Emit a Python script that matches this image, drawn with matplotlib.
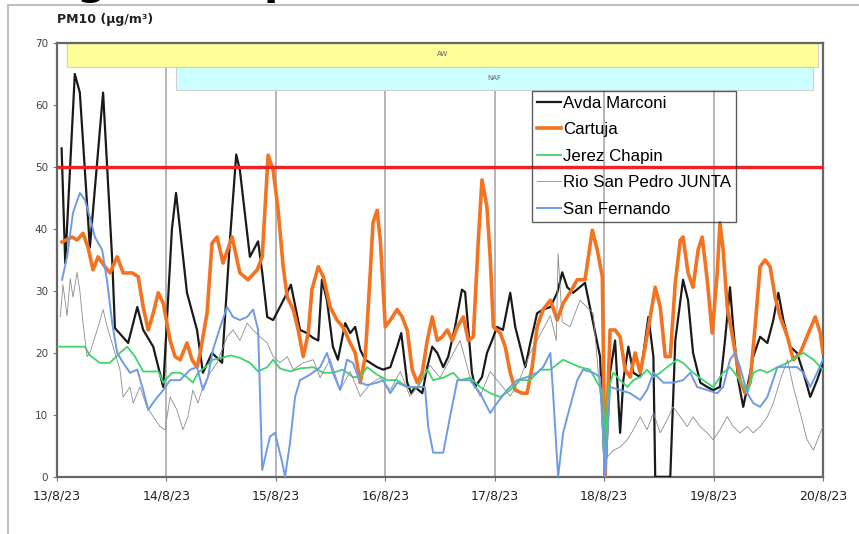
import numpy as np
import matplotlib
matplotlib.use("Agg")
import matplotlib.pyplot as plt
from matplotlib.lines import Line2D

# horas desde el 13/8/23 00:00
marconi_h = [1.0, 1.8, 3.9, 5.0, 7.2, 10.1, 12.1, 12.7, 15.6, 17.6, 18.9, 21.1, 23.3, 25.2, 26.1,
             28.5, 30.7, 32.0, 34.0, 36.2, 38.0, 39.3, 40.1, 42.3, 44.1, 45.0, 46.1, 47.4, 50.0,
             51.3, 53.3, 54.8, 56.2, 57.3, 58.1, 59.2, 60.5, 61.6, 63.2, 64.3, 65.4, 66.5, 67.6,
             68.7, 70.2, 71.5, 73.1, 74.6, 75.5, 76.8, 77.7, 78.5, 80.1, 81.2, 82.3, 83.4, 84.7,
             85.8, 87.3, 88.8, 89.5, 90.4, 91.0, 91.7, 93.2, 94.3, 95.4, 96.5, 97.8, 99.4, 100.5,
             101.6, 102.7, 103.8, 105.3, 106.6, 108.2, 109.7, 110.8, 111.9, 113.2, 115.8, 117.6,
             119.1, 120.2, 121.3, 122.4, 123.5, 124.2, 125.3, 126.4, 127.9, 129.7, 130.8, 131.2,
             134.5, 135.6, 137.3, 138.4, 139.5, 141.1, 142.6, 143.9, 145.4, 146.5, 147.6, 148.3,
             149.4, 150.5, 151.6, 152.7, 154.2, 155.8, 157.1, 158.2, 159.3, 160.8, 162.3, 163.7,
             165.2, 166.7, 168.0]
marconi = [53, 34.5, 65, 62, 37, 62, 35, 24, 21.6, 27.4, 23.7, 21, 14.5, 40, 45.8,
           29.7, 23.7, 16.8, 20, 18.4, 39, 52, 49.5, 35.5, 38, 33, 25.8, 25.3, 29,
           31, 23.7, 23.2, 22.4, 22, 31.8, 28.5, 21, 18.9, 24.8, 23.2, 24.2, 20.5, 18.9,
           18.4, 17.7, 17.3, 17.7, 21, 23.2, 15.2, 13.5, 14.5, 13.5, 17.7, 21, 20, 17.7,
           19.4, 24.2, 30.2, 29.8, 22, 16.8, 14.5, 16.1, 20, 22, 24.2, 23.7, 29.7, 24.2,
           21, 17.7, 21.6, 26.4, 27, 27.4, 29.7, 33, 30.6, 29.7, 31.3, 24.8,
           19.4, 0, 16.8, 22, 7.1, 15.6, 21, 16.8, 16.1, 25.8, 19.4, 0,
           0, 22, 31.8, 28.5, 20, 15.2, 14.5, 14, 14.5, 22, 30.6, 24.2,
           15.6, 11.3, 15.2, 19.4, 22.6, 21.6, 25.3, 29.7, 25.3, 21, 20, 16.8,
           12.9, 15.6, 18.4]

cartuja_h = [1.1, 3.3, 4.4, 5.7, 6.8, 7.9, 9.0, 10.5, 11.6, 13.2, 14.5, 16.5, 17.8, 18.9, 20.0,
             21.1, 22.2, 23.3, 24.8, 25.9, 27.0, 28.5, 29.6, 30.7, 31.4, 32.9, 34.0, 35.1, 36.4,
             38.4, 40.1, 41.9, 43.9, 45.0, 46.3, 47.4, 48.5, 49.6, 50.5, 51.8, 52.9, 54.0, 55.1,
             55.9, 57.3, 58.4, 59.9, 61.4, 62.7, 64.3, 65.4, 66.5, 67.6, 68.7, 69.3, 70.2, 70.9,
             72.0, 73.1, 74.6, 75.7, 76.8, 77.9, 79.0, 80.1, 81.2, 82.3, 83.4, 84.5, 85.6, 86.7,
             87.8, 89.1, 90.2, 91.3, 92.4, 93.2, 94.3, 95.0, 95.7, 97.2, 98.3, 99.4, 100.5, 102.0,
             103.1, 104.2, 105.3, 106.6, 108.2, 109.7, 111.0, 112.5, 114.1, 115.8, 117.4, 118.5,
             119.6, 120.2, 121.3, 122.4, 123.5, 124.6, 125.7, 126.8, 127.9, 129.0, 130.1, 131.2,
             132.3, 133.4, 134.5, 135.6, 136.7, 137.3, 138.4, 139.5, 140.6, 141.5, 142.6, 143.7,
             144.8, 145.4, 146.1, 147.0, 148.3, 149.8, 150.9, 152.0, 153.1, 154.2, 155.3, 156.4,
             157.5, 158.6, 160.2, 161.5, 163.0, 164.8, 166.3, 167.4, 168.0]
cartuja = [37.9, 38.7, 38.2, 39.3, 37, 33.4, 35.5, 33.9, 32.9, 35.5, 32.9, 32.9, 32.3, 27.4, 23.7,
           26.4, 29.7, 28, 22, 19.4, 18.9, 21.6, 18.9, 17.7, 20, 26.4, 37.7, 38.7, 34.5,
           38.7, 32.9, 31.8, 33.4, 35.5, 51.9, 49.5, 43, 33.9, 29, 27, 23.7, 19.4, 23.2,
           30.2, 33.9, 32.3, 27.4, 25.3, 24.2, 21.6, 20, 15.2, 19.4, 32.9, 41, 43, 38.2,
           24.2, 25.3, 27, 25.8, 23.7, 17.3, 15.2, 16.8, 22, 25.8, 22, 22.6, 23.7, 22,
           24.2, 25.8, 22, 22.6, 38.2, 47.9, 43.5, 35.5, 24.2, 23.2, 21, 16.8, 14, 13.5,
           13.5, 17.7, 24.2, 27, 28.5, 25.3, 28, 29.7, 31.8, 31.8, 39.8, 36.6,
           32.3, 0, 23.7, 23.7, 22.6, 17.3, 16.1, 20, 16.8, 21, 25.8, 30.6,
           27.4, 19.4, 19.4, 31.3, 38.2, 38.7, 32.9, 30.6, 36.6, 38.7, 31.8, 23.2,
           32.9, 41, 36.6, 27.4, 22, 15.6, 13.5, 15.2, 24.2, 33.9, 35, 33.9,
           29, 25.8, 22.6, 18.9, 20, 23.2, 25.8, 23.2, 20]

jerez_h = [0, 6.1, 7.2, 9.4, 11.6, 13.8, 15.4, 17.1, 18.9, 22.2, 23.3, 25.2, 27.0, 28.5, 29.8,
           30.9, 32.5, 34.2, 36.2, 38.0, 40.1, 42.3, 44.1, 46.1, 47.4, 48.9, 51.1, 53.3, 56.2,
           58.4, 60.5, 62.7, 64.9, 66.5, 68.0, 70.2, 72.4, 74.6, 76.8, 79.0, 81.2, 82.5, 84.7,
           86.9, 88.4, 90.6, 92.8, 95.0, 97.2, 99.4, 101.6, 103.8, 106.0, 108.2, 111.0, 112.5,
           114.7, 116.9, 119.8, 120.2, 120.9, 122.0, 123.5, 125.1, 126.4, 127.9, 129.4, 130.8,
           132.3, 133.8, 136.0, 137.3, 139.5, 141.7, 143.9, 146.1, 147.6, 149.8, 151.4, 152.7,
           154.2, 155.8, 158.0, 160.2, 162.3, 163.7, 165.9, 168.0]
jerez = [21, 21, 19.6, 18.4, 18.4, 20, 21, 19.4, 17, 17, 15.2, 16.8, 16.8, 16.1, 15.2,
         16.8, 17.7, 18.9, 19.2, 19.6, 19.2, 18.4, 17, 17.7, 18.9, 17.5, 17, 17.5, 17.7,
         16.8, 16.8, 17.3, 16.1, 16.1, 17.7, 16.5, 15.6, 15.6, 14.5, 14.4, 17.3, 15.6, 16,
         16.8, 15.6, 16, 14.5, 13.5, 12.9, 14, 15.6, 15.6, 17.3, 17.3, 18.9, 18.4,
         17.7, 17.3, 13.5, 3, 14, 16.8, 15.6, 14.5, 15.6, 16.1, 17.3, 16.1,
         16.8, 17.7, 18.9, 18.4, 16.8, 15.6, 14.5, 16.8, 17.7, 15.6, 13.5, 16.8,
         17.3, 16.8, 17.7, 18.4, 19.4, 20, 18.9, 17.3]

rio_h = [0.7, 1.3, 2.2, 2.9, 3.5, 4.4, 5.0, 5.7, 6.6, 7.2, 8.8, 10.1, 11.0, 12.3, 13.8, 14.5,
         16.0, 16.7, 18.2, 19.7, 21.1, 22.6, 23.7, 24.8, 26.3, 27.6, 28.7, 29.8, 30.9, 32.0,
         33.6, 35.1, 37.3, 38.6, 40.1, 41.7, 43.0, 44.5, 46.1, 47.4, 48.9, 50.5, 51.8, 54.0,
         56.2, 57.7, 59.9, 62.1, 64.3, 66.5, 68.7, 70.9, 73.1, 75.3, 77.4, 79.6, 81.8, 84.0,
         86.2, 88.4, 90.6, 92.8, 95.0, 97.2, 99.4, 101.6, 103.8, 106.0, 108.2, 109.5, 109.9,
         110.8, 112.5, 114.7, 117.6, 119.1, 120.7, 122.0, 123.5, 125.1, 126.4, 127.9, 129.4,
         130.8, 132.3, 133.8, 135.1, 136.7, 138.2, 139.5, 141.1, 142.6, 143.9, 145.4, 147.0,
         148.3, 149.8, 151.4, 152.7, 154.2, 155.8, 157.1, 158.6, 160.2, 161.5, 163.0, 164.5,
         165.9, 167.4, 168.0]
rio = [25.8, 31, 26, 32, 29, 33, 30, 24.8, 19.4, 20, 23.7, 27, 24.2, 21, 17.3, 12.9,
       14.5, 11.9, 14.5, 11.3, 9.7, 8.1, 7.6, 12.9, 10.8, 7.6, 9.7, 14, 11.9, 14.5,
       16.8, 18.4, 22.6, 23.7, 22, 24.8, 23.7, 22.6, 21.6, 19.4, 18.4, 19.4, 17.3, 18.4,
       18.9, 16, 19, 14, 17, 13, 15, 16, 14, 17, 13, 15, 18, 16,
       19, 22, 16, 13, 17, 15, 13, 16, 20, 23, 26, 22, 36,
       25, 24.2, 28.5, 26.4, 13.5, 3.2, 4.3, 4.8, 6, 7.6, 9.7, 7.6,
       10.3, 7.1, 9.2, 11.3, 9.7, 8.1, 9.7, 8.1, 7.1, 6, 7.6, 9.7,
       8.1, 7.1, 8.1, 7.1, 8.1, 9.7, 11.9, 15.6, 18.9, 14.5, 10.3, 6,
       4.3, 7.1, 8.1]

sanfer_h = [1.1, 2.2, 3.5, 5.0, 6.1, 7.2, 8.3, 9.9, 11.0, 12.1, 13.2, 14.5, 16.0, 17.6, 18.9,
            20.0, 21.5, 23.3, 24.8, 27.0, 29.2, 30.7, 32.0, 33.1, 34.2, 35.8, 37.3, 38.6, 40.1,
            41.7, 43.0, 44.1, 45.0, 46.7, 47.8, 49.4, 50.0, 51.1, 52.2, 53.3, 55.5, 57.7, 59.2,
            60.5, 62.1, 63.6, 64.9, 66.5, 68.0, 70.2, 71.5, 73.1, 74.6, 76.8, 79.0, 80.7, 81.4,
            82.5, 84.7, 86.2, 87.8, 89.1, 90.6, 92.8, 95.0, 96.5, 98.7, 100.9, 103.1, 105.3,
            106.6, 108.2, 108.8, 109.9, 111.0, 112.5, 114.1, 115.4, 117.6, 119.1, 120.2, 121.3,
            123.5, 125.7, 127.9, 129.4, 130.8, 133.0, 135.1, 137.3, 138.9, 140.4, 142.6, 144.8,
            146.1, 147.6, 148.7, 149.8, 151.4, 152.7, 154.2, 155.8, 158.0, 160.2, 162.3, 163.7,
            165.2, 166.7, 168.0]
sanfer = [31.8, 35.5, 42.6, 45.8, 44.7, 41.9, 38.7, 36.6, 31.5, 24.8, 20, 18.4, 16.8, 17.3, 14,
          10.8, 12.4, 14, 15.6, 15.6, 17.3, 17.7, 14, 16.1, 20.5, 24.2, 27.4, 25.8, 25.3,
          25.8, 27, 23.7, 1.1, 6.5, 7.1, 2.3, 0, 5.5, 12.9, 15.6, 16.5, 17.7, 20,
          16.8, 14, 18.9, 18.4, 15.2, 14.8, 15.2, 15.6, 13.5, 15.2, 14.5, 14.5, 14.5, 8.1,
          3.9, 3.9, 9.7, 15.6, 15.6, 15.6, 13.5, 10.3, 11.9, 14, 15.6, 16.1, 16.8,
          17.7, 20, 13.5, 0, 7.1, 11.3, 15.6, 17.3, 16.8, 16.1, 0, 14.5,
          14, 13.5, 12.4, 14, 16.8, 15.2, 15.2, 15.6, 16.8, 14.5, 14, 13.5,
          14.5, 18.9, 20, 17.7, 13.5, 11.9, 11.3, 12.9, 17.7, 17.7, 17.7, 16.8,
          14.5, 16.8, 18.9]

limite = 50
day_labels = ["13/8/23", "14/8/23", "15/8/23", "16/8/23", "17/8/23", "18/8/23", "19/8/23", "20/8/23"]

fig = plt.figure(figsize=(8.59, 5.34), dpi=100)
ax = fig.add_axes([0.0664, 0.107, 0.8917, 0.8125])

# rejilla vertical por dia
for d in range(1, 7):
    ax.axvline(d * 24, color="#b4b4b4", lw=1.4, zorder=0)

# bandas de episodio
ax.fill_between([2.2, 167.0], 66.1, 70, facecolor="#ffff99", edgecolor="#d0d0d0", lw=0.8, zorder=1)
ax.fill_between([26.1, 165.9], 62.4, 66.1, facecolor="#ccffff", edgecolor="#d0d0d0", lw=0.8, zorder=1)
ax.text((2.2 + 167.0) / 2, 68.3, "AW", fontsize=5, color="#666666", ha="center", va="center")
ax.text((26.1 + 165.9) / 2, 64.3, "NAF", fontsize=5, color="#666666", ha="center", va="center")

ax.plot(marconi_h, marconi, color="#1a1a1a", lw=1.6, label="Avda Marconi", zorder=3)
ax.plot(cartuja_h, cartuja, color="#f47321", lw=2.6, label="Cartuja", zorder=4)
ax.plot(jerez_h, jerez, color="#3fd46e", lw=1.3, label="Jerez Chapin", zorder=5)
ax.plot(rio_h, rio, color="#8c8c8c", lw=0.6, label="Rio San Pedro JUNTA", zorder=6)
ax.plot(sanfer_h, sanfer, color="#6e9be6", lw=1.4, label="San Fernando", zorder=7)

ax.axhline(limite, color="#ee2222", lw=2.4, zorder=8)

ax.set_xlim(0, 168)
ax.set_ylim(0, 70)
ax.set_xticks(np.arange(0, 169, 24))
ax.set_xticklabels(day_labels, fontsize=9, color="#222222")
ax.set_yticks(np.arange(0, 71, 10))
ax.tick_params(axis="y", labelsize=7.5, labelcolor="#444444", length=3, color="#777777")
ax.tick_params(axis="x", length=3, color="#777777", pad=6)
for s in ax.spines.values():
    s.set_color("#666666")
    s.set_linewidth(1.6)

leg = ax.legend(loc="upper left", bbox_to_anchor=(0.62, 0.89), frameon=True, fancybox=False,
                handlelength=1.4, handletextpad=0.15, borderpad=0.3,
                labelspacing=0.68, borderaxespad=0, prop={"family": "Liberation Sans", "size": 12.2})
leg.get_frame().set_facecolor("none")
leg.get_frame().set_edgecolor("#333333")
leg.get_frame().set_linewidth(1.0)
leg.set_zorder(9)

fig.text(0.0664, 0.963, "PM10 (µg/m³)", fontsize=9, fontweight="bold", color="#222222",
         ha="left", va="center")

# titulo recortado de la diapositiva
fig.text(91 / 859, 1.012, "g", fontsize=30, fontweight="bold", color="black", ha="center", va="baseline")
fig.text(278 / 859, 1.012, "p", fontsize=30, fontweight="bold", color="black", ha="center", va="baseline")

# marco exterior
fig.add_artist(Line2D([8 / 859, 1], [1 - 5 / 534, 1 - 5 / 534], color="#c0c0c0", lw=1.5))
fig.add_artist(Line2D([8 / 859, 8 / 859], [0, 1 - 5 / 534], color="#c0c0c0", lw=1.5))

fig.savefig("out.png", dpi=100)
